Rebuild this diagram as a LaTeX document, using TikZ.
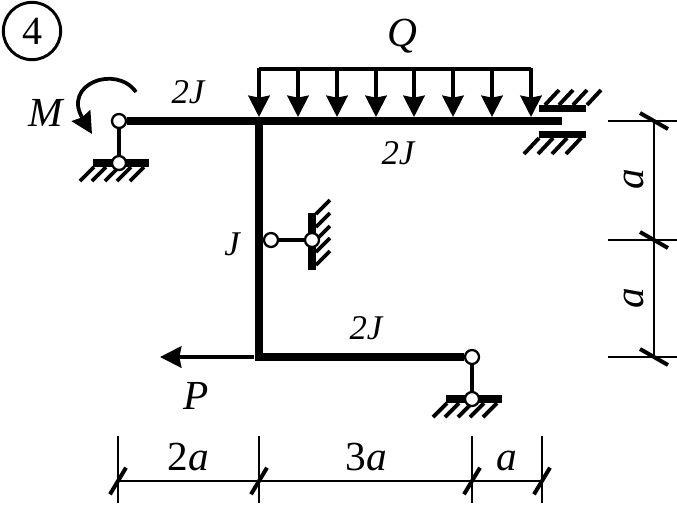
\documentclass[tikz,border=0pt]{standalone}
\usepackage{fontspec}
\setmainfont{Liberation Serif}
\usepackage{tikz}
\usetikzlibrary{arrows.meta}
\tikzset{
  beam/.style = {line width = 6.2pt},
  link/.style = {line width = 2.8pt},
  hatch/.style = {line width = 2.9pt},
  bar/.style = {fill = black, draw = none},
  hinge/.style = {circle, draw, fill = white, line width = 1.7pt, inner sep = 0pt, minimum size = 10.5pt},
  loadarrow/.style = {line width = 2.8pt, -{Stealth[length = 16pt, width = 16pt, inset = 1.5pt]}},
  dimline/.style = {line width = 1.2pt},
  dimtick/.style = {line width = 3pt},
  biglabel/.style = {font = \fontsize{31}{31}\selectfont\itshape, inner sep = 0pt},
  smalllabel/.style = {font = \fontsize{26}{26}\selectfont\itshape, inner sep = 0pt},
  dimlabel/.style = {font = \fontsize{31}{31}\selectfont, inner sep = 0pt}
}
\begin{document}
\begin{tikzpicture}[x = 0.75pt, y = -0.75pt]
\useasboundingbox (0,0) rectangle (677,504);
% number
\node[circle, draw, line width = 2.2pt, minimum size = 43pt, inner sep = 0pt, font = \fontsize{30}{30}\selectfont] (number) at (32,31) {4};
% supports
\fill[bar] (93,159) rectangle (149,167);
\foreach \x in {94,106,119,131,144} \draw[hatch] (\x,167) -- (\x-14,181);
\fill[bar] (446,395) rectangle (502,403);
\foreach \x in {447,459,472,484,497} \draw[hatch] (\x,403) -- (\x-14,417);
\fill[bar] (308,213) rectangle (316,270);
\foreach \y in {214,227,240,252,265} \draw[hatch] (316,\y) -- (330,\y-14);
\fill[bar] (539,105) rectangle (586,112);
\foreach \x in {545,559,573,587} \draw[hatch] (\x,105) -- (\x+14,90);
\fill[bar] (539,131) rectangle (586,138);
\foreach \x in {539,553,567,581} \draw[hatch] (\x,138) -- (\x-15,154);
% frame
\coordinate (topjoint) at (259,121);
\coordinate (topend) at (562,121);
\coordinate (corner) at (259,357);
\node[hinge] (hingeA) at (119,121) {};
\node[hinge] (hingeB) at (119,163) {};
\node[hinge] (hingeC) at (271,240) {};
\node[hinge] (hingeD) at (312,240) {};
\node[hinge] (hingeE) at (472,357) {};
\node[hinge] (hingeF) at (472,399) {};
\draw[beam] (hingeA) -- (topend);
\draw[beam] (topjoint) -- (corner) -- (hingeE);
\draw[link] (hingeA) -- (hingeB);
\draw[link] (hingeC) -- (hingeD);
\draw[link] (hingeE) -- (hingeF);
% load
\draw[link] (259,69) -- (531,69);
\foreach \x in {259,298,337,376,414,453,492,531} \draw[loadarrow] (\x,68) -- (\x,117);
\draw[loadarrow] (254,357) -- (160,357);
\draw[loadarrow] (136,92) .. controls (116,64) and (62,84) .. (92,134);
% labels
\node[biglabel] (labelM) at (46,113) {M};
\node[biglabel] (labelQ) at (402,36) {Q};
\node[biglabel] (labelP) at (196,396) {P};
\node[smalllabel] (labelA) at (188,92) {2J};
\node[smalllabel] (labelB) at (398,153) {2J};
\node[smalllabel] (labelC) at (232,244) {J};
\node[smalllabel] (labelD) at (366,328) {2J};
% dimensions right
\coordinate (dimA) at (654,121);
\coordinate (dimB) at (654,240);
\coordinate (dimC) at (654,357);
\draw[dimline] (dimA) -- (dimC);
\foreach \p in {dimA,dimB,dimC} {
  \draw[dimline] ([xshift=-34.5pt]\p) -- ([xshift=17pt]\p);
  \draw[dimtick] ([xshift=-10.5pt,yshift=6pt]\p) -- ([xshift=10.5pt,yshift=-6pt]\p);
}
\node[dimlabel, rotate = 90] (labelE) at (634,179) {\itshape a};
\node[dimlabel, rotate = 90] (labelF) at (634,298) {\itshape a};
% dimensions bottom
\coordinate (dimD) at (118,481);
\coordinate (dimE) at (259,481);
\coordinate (dimF) at (472,481);
\coordinate (dimG) at (542,481);
\draw[dimline] (dimD) -- (dimG);
\foreach \p in {dimD,dimE,dimF,dimG} {
  \draw[dimline] ([yshift=33.5pt]\p) -- ([yshift=-16.5pt]\p);
  \draw[dimtick] ([xshift=-6pt,yshift=-10pt]\p) -- ([xshift=6pt,yshift=10pt]\p);
}
\node[dimlabel, anchor = base] (labelG) at (188,470) {2\textit{a}};
\node[dimlabel, anchor = base] (labelH) at (366,470) {3\textit{a}};
\node[dimlabel, anchor = base] (labelI) at (507,470) {\textit{a}};
\end{tikzpicture}
\end{document}
